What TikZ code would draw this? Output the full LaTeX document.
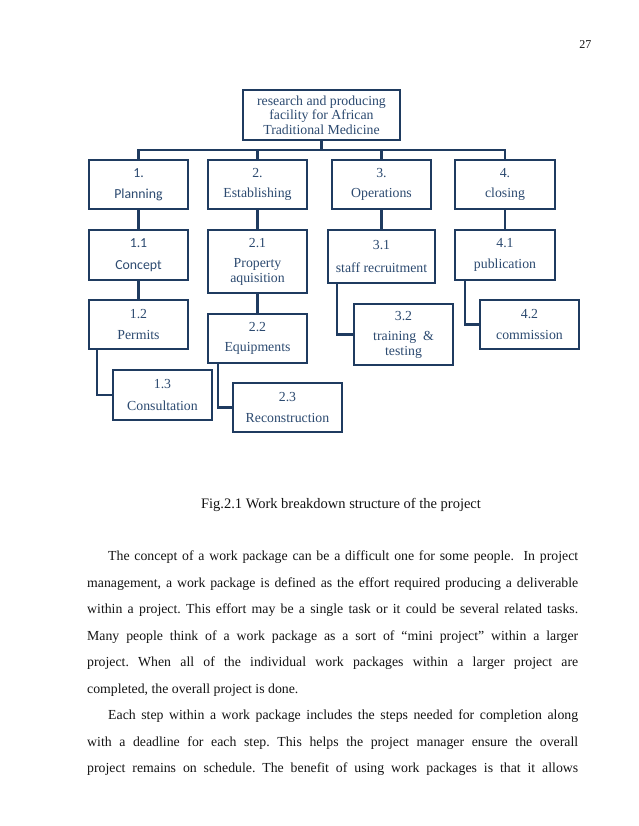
\documentclass[tikz,border=0pt]{standalone}
\usepackage{fontspec}
\setmainfont{Liberation Serif}
\newfontfamily\calib{Carlito}
\usepackage{xcolor}
\usetikzlibrary{calc}
\definecolor{edge}{HTML}{1F3B60}
\definecolor{ink}{HTML}{2C4A70}
\definecolor{body}{HTML}{141414}
\tikzset{
  box/.style={draw=edge, line width=2.5pt, inner sep=0pt, align=center, text=ink,
    font=\fontsize{13.8}{14.5}\selectfont},
  sansbox/.style={box, font=\calib\fontsize{13.8}{14.5}\selectfont},
  sz/.style 2 args={minimum width=#1pt, minimum height=#2pt},
  link/.style={draw=edge, line width=2.5pt},
  para/.style={anchor=north west, inner sep=0pt, text width=491pt, align=justify,
    text=body, font=\fontsize{13.8}{26.5}\selectfont},
}
\frenchspacing

\begin{document}
\begin{tikzpicture}[x=1pt, y=-1pt]
  \useasboundingbox[fill=white] (0,0) rectangle (638,826);

  \node[anchor=base east, font=\fontsize{12}{14}\selectfont, text=body] (pnum) at (595,49) {27};

  % top of the tree
  \node[box, sz={157}{50}] (root) at (321.5,115)
    {research and producing\\facility\ for African\\Traditional\ Medicine};
  \coordinate (bus) at (321.5,150);

  % first level
  \node[sansbox, sz={99}{49}] (p1) at (138.5,184.5) {1.\\[7pt]Planning};
  \node[box, sz={99}{49}] (p2) at (257.5,184.5) {2.\\[6pt]Establishing};
  \node[box, sz={99}{49}] (p3) at (381.5,184.5) {3.\\[6pt]Operations};
  \node[box, sz={100}{49}] (p4) at (505,184.5) {4.\\[6pt]closing};

  % work packages
  \node[sansbox, sz={99}{50}] (p11) at (138.5,255) {1.1\\[7pt]Concept};
  \node[box, sz={99}{49}] (p12) at (138.5,324.5) {1.2\\[7pt]Permits};
  \node[box, sz={99}{50}] (p13) at (162.5,395) {1.3\\[7pt]Consultation};

  \node[box, sz={99}{63}] (p21) at (257.5,261.5) {2.1\\[6pt]Property\\aquisition};
  \node[box, sz={99}{49}] (p22) at (257.5,338.5) {2.2\\[6pt]Equipments};
  \node[box, sz={109}{49}] (p23) at (287.5,407.5) {2.3\\[6pt]Reconstruction};

  \node[box, sz={107}{53}] (p31) at (381.5,256.5) {3.1\\[8pt]staff recruitment};
  \node[box, sz={99}{61}] (p32) at (403.5,334.5) {3.2\\[6pt]training\ \ \&\\testing};

  \node[box, sz={100}{50}] (p41) at (505,255) {4.1\\[7pt]publication};
  \node[box, sz={99}{49}] (p42) at (529.5,324.5) {4.2\\[7pt]commission};

  \draw[link] (root.south) -- (bus);
  \foreach \n in {p1,p2,p3,p4}
    \draw[link] (bus) -| (\n.north);

  \draw[link] (p1.south) -- (p11.north);
  \draw[link] (p11.south) -- (p12.north);
  \draw[link] (p2.south) -- (p21.north);
  \draw[link] (p21.south) -- (p22.north);
  \draw[link] (p3.south) -- (p31.north);
  \draw[link] (p4.south) -- (p41.north);

  \draw[link] ([xshift=9pt]p12.south west) |- (p13.west);
  \draw[link] ([xshift=11pt]p22.south west) |- (p23.west);
  \draw[link] ([xshift=10pt]p31.south west) |- (p32.west);
  \draw[link] ([xshift=11pt]p41.south west) |- (p42.west);

  \node[anchor=base, font=\fontsize{14.5}{16}\selectfont, text=body] (cap) at (341,508)
    {Fig.2.1 Work breakdown structure of the project};

  \node[para] (txt) at (87,542) {\strut\hspace*{21pt}The concept of a work package can be a difficult one for some people.\ \ In project\linebreak
    management, a work package is defined as the effort required producing a deliverable\linebreak
    within a project. This effort may be a single task or it could be several related tasks.\linebreak
    Many people think of a work package as a sort of “mini project” within a larger\linebreak
    project. When all of the individual work packages within a larger project are\linebreak
    completed, the overall project is done.\par
    \hspace*{21pt}Each step within a work package includes the steps needed for completion along\linebreak
    with a deadline for each step. This helps the project manager ensure the overall\linebreak
    project remains on schedule. The benefit of using work packages is that it allows{\parfillskip=0pt\par}};
\end{tikzpicture}
\end{document}
